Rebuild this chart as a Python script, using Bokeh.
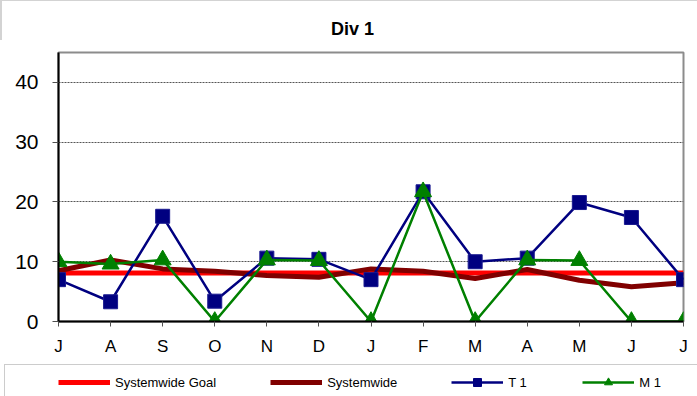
from bokeh.plotting import figure
from bokeh.models import FixedTicker, Legend, LegendItem, Label
from bokeh.layouts import column
from bokeh.embed import file_html
from bokeh.resources import INLINE

months = ["J", "A", "S", "O", "N", "D", "J", "F", "M", "A", "M", "J", "J"]
x = list(range(len(months)))
goal = [8.1, 8.1, 8.1, 8.1, 8.1, 8.1, 8.1, 8.1, 8.1, 8.1, 8.1, 8.1, 8.1]
systemwide = [8.5, 10.3, 8.8, 8.4, 7.7, 7.4, 8.8, 8.4, 7.2, 8.7, 6.9, 5.8, 6.5]
t1 = [7.0, 3.3, 17.6, 3.4, 10.6, 10.4, 7.0, 21.7, 10.0, 10.6, 19.9, 17.4, 7.0]
m1 = [10.0, 9.6, 10.3, 0.0, 10.3, 10.2, 0.0, 21.7, 0.0, 10.3, 10.2, 0.0, 0.0]
y_ticks = [0, 10, 20, 30, 40]

FONT = "Liberation Sans"
STYLES = {
    "goal": dict(line_color="#ff0000", line_width=5),
    "sys": dict(line_color="#800000", line_width=5),
    "t1": dict(line_color="#000080", line_width=2.5),
    "m1": dict(line_color="#008000", line_width=2.5),
}


def strip(height):
    f = figure(width=697, height=height, x_range=(0, 1), y_range=(-200, -199),
               output_backend="svg", toolbar_location=None,
               x_axis_location=None, y_axis_location=None,
               min_border_left=0, min_border_right=0, min_border_top=0,
               min_border_bottom=0)
    f.outline_line_color = None
    f.grid.visible = False
    f.background_fill_color = "white"
    f.border_fill_color = "white"
    return f


def frame_box(loc, width, height, color, lw, bg_alpha=1):
    return Legend(items=[LegendItem(label=" ", renderers=[])],
                  location=loc, orientation="horizontal",
                  glyph_width=width, glyph_height=height, label_standoff=0,
                  label_width=0, label_height=height, padding=0, margin=0,
                  border_line_color=color, border_line_width=lw,
                  background_fill_color="white", background_fill_alpha=bg_alpha,
                  label_text_font_size="1px")


# top strip: chart-area border line and the title
top = strip(40)
top.add_layout(frame_box((0, -8), 720, 45, "#a8a8a8", 2, bg_alpha=0), "center")
top.add_layout(Label(x=352, y=11.5, x_units="screen", y_units="screen",
                     text="Div 1", text_align="center", text_baseline="middle",
                     text_font=FONT, text_font_style="bold",
                     text_font_size="18px", text_color="black"))

p = figure(width=697, height=324, x_range=(0, 12), y_range=(0, 45),
           output_backend="svg", toolbar_location=None,
           min_border_left=58, min_border_right=14, min_border_top=12,
           min_border_bottom=43)
p.background_fill_color = "white"
p.border_fill_color = "white"
p.outline_line_color = "#8c8c8c"
p.outline_line_width = 2
p.title.text = ""
p.title.standoff = 0

p.line(x, goal, **STYLES["goal"])
p.line(x, systemwide, **STYLES["sys"])
p.line(x, t1, **STYLES["t1"])
p.scatter(x, t1, marker="square", size=14, fill_color="#000080",
          line_color="#1a1a90", line_width=1)
p.line(x, m1, **STYLES["m1"])
p.scatter(x, m1, marker="triangle", size=17, fill_color="#008000",
          line_color="#008000", line_width=1)

# axes
p.xaxis.ticker = FixedTicker(ticks=x)
p.xaxis.major_label_overrides = {i: m for i, m in zip(x, months)}
p.xaxis.major_label_text_font = FONT
p.xaxis.major_label_text_font_size = "17px"
p.xaxis.major_label_text_color = "black"
p.xaxis.major_tick_out = 5
p.xaxis.major_tick_in = 0
p.xaxis.major_tick_line_color = "#505050"
p.xaxis.minor_tick_line_color = None
p.xaxis.axis_line_color = "black"
p.xaxis.axis_line_width = 2
p.xaxis.major_label_standoff = 10

p.yaxis.ticker = FixedTicker(ticks=y_ticks)
p.yaxis.major_label_text_font = FONT
p.yaxis.major_label_text_font_size = "21px"
p.yaxis.major_label_text_color = "black"
p.yaxis.major_tick_out = 6
p.yaxis.major_tick_in = 0
p.yaxis.major_tick_line_color = "#505050"
p.yaxis.minor_tick_line_color = None
p.yaxis.axis_line_color = "black"
p.yaxis.axis_line_width = 2
p.yaxis.major_label_standoff = 14

p.xgrid.visible = False
p.ygrid.ticker = FixedTicker(ticks=y_ticks)
p.ygrid.grid_line_color = "#555555"
p.ygrid.grid_line_dash = "2 1"
p.ygrid.grid_line_width = 1

# legend strip (separate canvas so the legend is not clipped by the chart frame)
lf = strip(32)

l_goal = lf.line(x, goal, **STYLES["goal"])
l_sys = lf.line(x, systemwide, **STYLES["sys"])
l_t1l = lf.line(x, t1, **STYLES["t1"])
l_t1p = lf.scatter(x, t1, marker="square", size=9, fill_color="#000080",
                   line_color="#000080")
l_m1l = lf.line(x, m1, **STYLES["m1"])
l_m1p = lf.scatter(x, m1, marker="triangle", size=10, fill_color="#008000",
                   line_color="#008000")

lf.add_layout(frame_box((4, -15), 720, 45, "#9a9a9a", 1), "center")

leg = Legend(items=[
    LegendItem(label="Systemwide Goal", renderers=[l_goal]),
    LegendItem(label="Systemwide", renderers=[l_sys]),
    LegendItem(label="T 1", renderers=[l_t1l, l_t1p]),
    LegendItem(label="M 1", renderers=[l_m1l, l_m1p]),
], location=(58, 4), orientation="horizontal",
    glyph_width=52, glyph_height=20, label_standoff=5, spacing=54,
    label_height=20, padding=0, margin=0,
    border_line_color=None, background_fill_alpha=0,
    label_text_font=FONT, label_text_font_size="13px",
    label_text_color="black")
lf.add_layout(leg, "center")

for fig in (top, p, lf):
    if "frame_align" in fig.properties():
        fig.frame_align = False

layout = column(top, p, lf, spacing=0)
open("out.html", "w").write(file_html(layout, INLINE))
